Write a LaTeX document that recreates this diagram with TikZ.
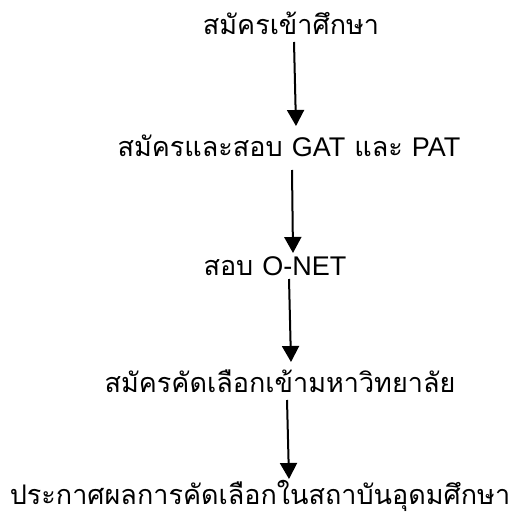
\documentclass[tikz,border=0pt]{standalone}
\usepackage{fontspec}
\usepackage{tikz}
\usetikzlibrary{arrows.meta, positioning}
\newfontfamily\thaifont[Script=Thai]{Loma}
\newfontfamily\latinfont{Liberation Sans}
\newcommand{\lat}[1]{{\latinfont #1}}

\begin{document}
\begin{tikzpicture}[x=1pt, y=-1pt]
    \tikzset{
        steplabel/.style={anchor=base, inner sep=0pt, font=\thaifont\fontsize{27}{32}\selectfont},
        flow/.style={line width=2pt, -{Triangle[length=16pt, width=17pt]}}
    }
    \useasboundingbox (0,0) rectangle (521,518);

    % Steps
    \node[steplabel] (t1) at (291,35) {สมัครเข้าศึกษา};
    \node[steplabel] (t2) at (289,157) {สมัครและสอบ \lat{GAT} และ \lat{PAT}};
    \node[steplabel] (t3) at (275,275) {สอบ \lat{O-NET}};
    \node[steplabel] (t4) at (280,392) {สมัครคัดเลือกเข้ามหาวิทยาลัย};
    \node[steplabel] (t5) at (260,504) {ประกาศผลการคัดเลือกในสถาบันอุดมศึกษา};

    % Arrow ends
    \coordinate (s1) at (294,42);  \coordinate (e1) at (296,126);
    \coordinate (s2) at (292,170); \coordinate (e2) at (293,253);
    \coordinate (s3) at (289,279); \coordinate (e3) at (291,362);
    \coordinate (s4) at (287,400); \coordinate (e4) at (289,479);

    \draw[flow] (s1) -- (e1);
    \draw[flow] (s2) -- (e2);
    \draw[flow] (s3) -- (e3);
    \draw[flow] (s4) -- (e4);
\end{tikzpicture}
\end{document}
